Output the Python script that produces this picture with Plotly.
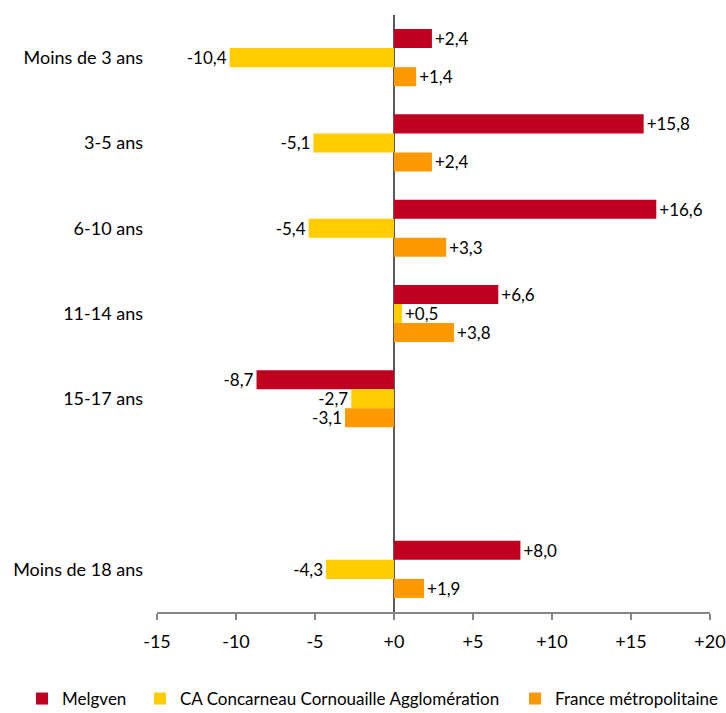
import plotly.graph_objects as go

categories = ["Moins de 3 ans", "3-5 ans", "6-10 ans", "11-14 ans", "15-17 ans", " ", "Moins de 18 ans"]
melgven = [2.4, 15.8, 16.6, 6.6, -8.7, None, 8.0]
ca_concarneau = [-10.4, -5.1, -5.4, 0.5, -2.7, None, -4.3]
france = [1.4, 2.4, 3.3, 3.8, -3.1, None, 1.9]
series_names = ["Melgven", "CA Concarneau Cornouaille Agglomération", "France métropolitaine"]
series_colors = ["#C00020", "#FFCC00", "#FF9900"]
tick_vals = [-15, -10, -5, 0, 5, 10, 15, 20]
tick_text = ["-15", "-10", "-5", "+0", "+5", "+10", "+15", "+20"]

FONT = "Lato"
FS = 18

def fmt(v):
    if v is None:
        return ""
    return f"{v:+.1f}".replace(".", ",")

fig = go.Figure()
legend_ids = ["legend", "legend2", "legend3"]
for name, vals, col, lg in zip(series_names, [melgven, ca_concarneau, france], series_colors, legend_ids):
    fig.add_trace(go.Bar(
        y=categories, x=vals, orientation="h", name=name,
        marker=dict(color=col, line=dict(width=0)),
        text=[fmt(v) for v in vals], textposition="outside",
        textfont=dict(family=FONT, size=17, color="#000000"),
        cliponaxis=False, constraintext="none",
        legend=lg, hoverinfo="skip",
    ))

W, H = 726, 713
ml, mr, mt, mb = 157, 16, 15, 101

leg_common = dict(orientation="h", xref="container", yref="container",
                  yanchor="middle", y=1 - 699 / H, xanchor="left",
                  font=dict(family=FONT, size=17, color="#000000"),
                  bgcolor="rgba(0,0,0,0)", itemwidth=30)

fig.update_layout(
    width=W, height=H,
    margin=dict(l=ml, r=mr, t=mt, b=mb, autoexpand=False),
    plot_bgcolor="white", paper_bgcolor="white",
    barmode="group", bargap=0.33, bargroupgap=0,
    font=dict(family=FONT, size=FS, color="#000000"),
    legend=dict(leg_common, x=22 / W),
    legend2=dict(leg_common, x=140 / W),
    legend3=dict(leg_common, x=515 / W),
    showlegend=True,
)
fig.update_xaxes(
    range=[-15, 20], tickvals=tick_vals, ticktext=tick_text,
    showgrid=False, zeroline=True, zerolinecolor="#595959", zerolinewidth=1.5,
    showline=True, linecolor="#868686", linewidth=1.5,
    ticks="outside", ticklen=6, tickcolor="#868686", tickwidth=1.5,
    tickfont=dict(family=FONT, size=FS, color="#000000"),
    ticklabelstandoff=7, automargin=False,
)
fig.update_yaxes(
    categoryorder="array", categoryarray=categories, autorange="reversed",
    showgrid=False, zeroline=False, showline=False, ticks="",
    tickfont=dict(family=FONT, size=FS, color="#000000"),
    ticklabelstandoff=13, automargin=False,
)

fig.write_html("out.html", config={"displayModeBar": False},
               post_script="document.body.style.margin='0';document.body.style.overflow='hidden';")
